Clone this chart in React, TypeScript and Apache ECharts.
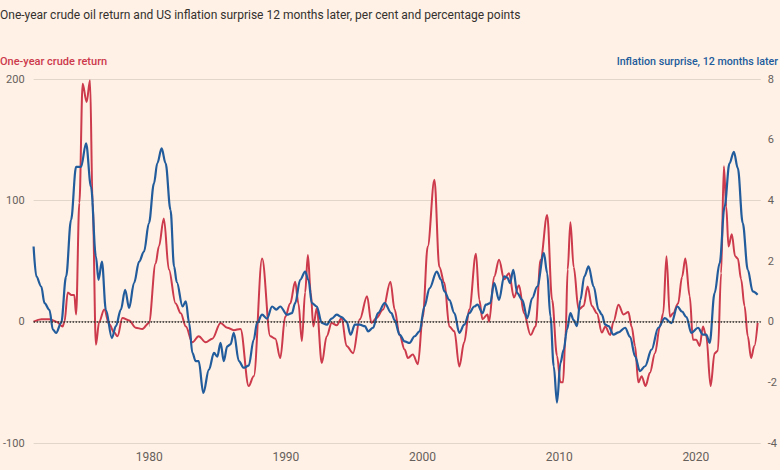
import React, { useEffect, useRef } from "react";
import * as echarts from "echarts";

const TITLE = "One-year crude oil return and US inflation surprise 12 months later, per cent and percentage points";
const LEFT_LABEL = "One-year crude return";
const RIGHT_LABEL = "Inflation surprise, 12 months later";

const YEAR_TICKS = [1980, 1990, 2000, 2010, 2020];

const crudeYears = [
  1971.54, 1972.12, 1972.70, 1973.21, 1973.67, 1973.80, 1974.04, 1974.31, 1974.52, 1974.65,
  1974.89, 1975.13, 1975.42, 1975.67, 1975.86, 1976.10, 1976.34, 1976.71, 1977.07, 1977.44,
  1977.68, 1978.04, 1978.53, 1979.01, 1979.50, 1979.98, 1980.47, 1980.71, 1981.07, 1981.44,
  1981.93, 1982.31, 1982.68, 1983.16, 1983.62, 1984.13, 1984.62, 1985.22, 1985.71, 1986.19,
  1986.68, 1987.28, 1987.65, 1988.26, 1988.86, 1989.23, 1989.59, 1989.95, 1990.32, 1990.68,
  1990.92, 1991.17, 1991.41, 1991.61, 1991.82, 1992.01, 1992.26, 1992.63, 1992.99, 1993.35,
  1993.72, 1994.08, 1994.44, 1994.92, 1995.41, 1995.94, 1996.26, 1996.63, 1997.11, 1997.65,
  1997.96, 1998.32, 1998.69, 1998.93, 1999.29, 1999.66, 2000.02, 2000.38, 2000.87, 2001.23,
  2001.60, 2001.96, 2002.33, 2002.69, 2003.05, 2003.42, 2003.91, 2004.15, 2004.39, 2004.75,
  2004.87, 2005.24, 2005.60, 2005.97, 2006.33, 2006.69, 2007.06, 2007.42, 2007.91, 2008.27,
  2008.64, 2009.12, 2009.48, 2009.84, 2010.09, 2010.28, 2010.46, 2010.62, 2010.82, 2011.06,
  2011.42, 2011.79, 2012.08, 2012.39, 2012.76, 2013.12, 2013.37, 2013.73, 2013.97, 2014.34,
  2014.70, 2015.06, 2015.30, 2015.55, 2015.79, 2016.03, 2016.32, 2016.64, 2017.01, 2017.37,
  2017.61, 2017.85, 2018.10, 2018.34, 2018.70, 2018.99, 2019.23, 2019.55, 2019.79, 2020.03,
  2020.28, 2020.52, 2020.76, 2021.08, 2021.37, 2021.61, 2021.85, 2022.05, 2022.22, 2022.39,
  2022.63, 2022.87, 2023.07, 2023.31, 2023.56, 2023.80, 2024.04, 2024.28, 2024.52,
];
const crudeReturn = [
  0, 2, 2, 0, -4, 0, 24, 22, 22, 6,
  98, 196, 181, 199, 98, -19, 0, 10, -2, -9,
  -12, 3, 1, -5, -6, -1, 48, 62, 85, 43,
  15, 7, -4, -17, -12, -17, -14, -1, -5, -7,
  -6, -53, -45, 52, -12, -14, -30, 4, 15, 33,
  15, -16, 24, 55, 24, -4, 11, -34, -12, -1,
  -3, 3, -20, -26, 2, 21, -1, 3, 10, 33,
  10, -11, -23, -30, -27, -35, 4, 62, 117, 45,
  32, -4, -8, -37, -17, 10, 56, 18, 2, 6,
  0, 37, 51, 35, 40, 20, 30, 7, -11, -4,
  51, 88, 18, -28, -50, -50, -12, 43, 82, 45,
  10, 13, 29, 13, 7, -9, -4, -11, 0, 14,
  6, 8, -4, -20, -50, -45, -53, -42, -26, -4,
  7, 54, 4, 7, 15, 37, 52, 21, -15, -15,
  -20, -4, -12, -53, -26, -24, 40, 128, 95, 62,
  72, 54, 52, 35, 13, -12, -30, -20, -1,
];

const surpriseYears = [
  1971.54, 1971.74, 1972.10, 1972.34, 1972.70, 1972.95, 1973.19, 1973.56, 1973.92, 1974.28,
  1974.65, 1975.01, 1975.38, 1975.74, 1976.10, 1976.29, 1976.54, 1976.83, 1977.27, 1977.56,
  1977.92, 1978.24, 1978.53, 1978.89, 1979.26, 1979.62, 1979.98, 1980.35, 1980.59, 1980.91,
  1981.20, 1981.56, 1981.82, 1982.02, 1982.44, 1982.68, 1982.92, 1983.16, 1983.40, 1983.62,
  1983.96, 1984.37, 1984.74, 1984.98, 1985.22, 1985.46, 1985.71, 1985.95, 1986.19, 1986.56,
  1986.92, 1987.28, 1987.65, 1987.89, 1988.26, 1988.62, 1988.99, 1989.30, 1989.59, 1990.08,
  1990.44, 1990.68, 1991.05, 1991.41, 1991.65, 1991.90, 1992.26, 1992.63, 1992.99, 1993.35,
  1993.72, 1994.08, 1994.44, 1994.74, 1995.05, 1995.41, 1995.78, 1996.02, 1996.38, 1996.74,
  1997.23, 1997.72, 1997.96, 1998.32, 1998.69, 1999.05, 1999.42, 1999.78, 2000.14, 2000.51,
  2001.04, 2001.36, 2001.60, 2001.96, 2002.33, 2002.69, 2003.05, 2003.42, 2003.78, 2004.02,
  2004.39, 2004.63, 2004.95, 2005.24, 2005.60, 2005.97, 2006.21, 2006.40, 2006.64, 2006.93,
  2007.30, 2007.66, 2008.03, 2008.39, 2008.88, 2009.12, 2009.36, 2009.60, 2009.84, 2010.09,
  2010.33, 2010.57, 2010.82, 2011.06, 2011.30, 2011.55, 2011.84, 2012.15, 2012.52, 2012.88,
  2013.12, 2013.37, 2013.61, 2013.97, 2014.34, 2014.82, 2015.19, 2015.55, 2015.91, 2016.28,
  2016.76, 2017.25, 2017.73, 2018.21, 2018.65, 2018.99, 2019.31, 2019.67, 2020.16, 2020.52,
  2020.76, 2021.01, 2021.37, 2021.74, 2022.10, 2022.46, 2022.78, 2023.07, 2023.43, 2023.80,
  2024.16, 2024.52,
];
const inflationSurprise = [
  2.48, 1.49, 1.16, 0.61, 0.39, -0.26, -0.37, -0.04, 1.49, 3.35,
  5.1, 5.1, 5.88, 4.45, 2.15, 1.38, 1.98, 0.39, -0.54, -0.15,
  0.39, 1.05, 0.45, 1.27, 1.98, 2.31, 3.25, 4.56, 5.22, 5.71,
  5.22, 3.68, 1.82, 1.3, 0.5, 0.67, -0.04, -1.03, -1.3, -1.3,
  -2.35, -1.58, -1.03, -1.15, -0.7, -1.3, -0.81, -0.75, -0.37, -1.3,
  -1.52, -1.45, -0.59, -0.04, 0.23, 0.1, 0.5, 0.4, 0.5, 0.23,
  0.28, 0.61, 1.38, 1.65, 1.38, 0.61, 0.5, -0.04, -0.1, 0.1,
  0.23, 0.15, 0, -0.43, -0.1, -0.1, -0.15, -0.32, -0.2, 0.28,
  0.61, 0.28, 0.05, -0.43, -0.65, -0.7, -0.48, -0.32, 0.5, 1.1,
  1.65, 1.38, 1.0, 0.72, 0.28, -0.37, -0.1, 0.28, 0.5, 0.56,
  0.28, 0.56, 0.61, 1.27, 0.72, 1.49, 1.45, 1.27, 1.71, 0.94,
  0.72, 0.12, 0.78, 1.16, 2.26, 1.6, 0.17, -1.47, -2.67, -1.36,
  -0.92, -0.26, 0.28, 0.05, -0.15, 0.72, 1.49, 1.82, 1.16, 0.39,
  0.23, -0.1, -0.15, -0.43, -0.35, -0.2, -0.5, -1.14, -1.63, -1.47,
  -0.92, -0.2, 0.12, -0.05, 0.5, 0.33, 0.15, -0.37, -0.2, -0.43,
  -0.43, -0.7, 0.94, 1.93, 3.79, 5.22, 5.6, 5.06, 3.25, 1.71,
  1.0, 0.89,
];

const RED = "#cc3a4c";
const BLUE = "#225c9c";
const GRID = "#e2d6cb";
const TEXT = "#66605c";
const FONT = "Roboto, 'Noto Sans', sans-serif";

export default function App() {
  const ref = useRef<HTMLDivElement>(null);

  useEffect(() => {
    if (!ref.current) return;
    const chart = echarts.init(ref.current, undefined, { renderer: "svg" });

    const crudeData = crudeYears.map((y, i) => [y, crudeReturn[i]]);
    const surpriseData = surpriseYears.map((y, i) => [y, inflationSurprise[i]]);

    chart.setOption({
      animation: false,
      backgroundColor: "#fff1e5",
      textStyle: { fontFamily: FONT },
      graphic: [
        {
          type: "text",
          left: 0,
          top: 9,
          style: { text: TITLE, fill: "#33302e", font: `12px ${FONT}` },
        },
        {
          type: "text",
          left: 0,
          top: 56,
          style: { text: LEFT_LABEL, fill: RED, font: `500 11px ${FONT}` },
        },
        {
          type: "text",
          right: 2,
          top: 56,
          style: { text: RIGHT_LABEL, fill: BLUE, font: `500 10.7px ${FONT}` },
        },
      ],
      grid: { left: 32, right: 17, top: 79, bottom: 27, containLabel: false },
      xAxis: {
        type: "value",
        min: 1971.54,
        max: 2024.75,
        axisLine: { show: true, lineStyle: { color: "#cfc3b8", width: 1 } },
        axisTick: {
          show: true,
          length: 5,
          customValues: YEAR_TICKS,
          lineStyle: { color: "#bfb3a8" },
        },
        axisLabel: {
          customValues: YEAR_TICKS,
          formatter: (v: number) => String(Math.round(v)),
          color: TEXT,
          fontSize: 12,
          fontFamily: FONT,
          margin: 8,
        },
        splitLine: { show: false },
      },
      yAxis: [
        {
          type: "value",
          min: -100,
          max: 200,
          interval: 100,
          position: "left",
          axisLine: { show: false },
          axisTick: { show: false },
          axisLabel: { color: TEXT, fontSize: 11, fontFamily: FONT, margin: 9 },
          splitLine: {
            show: true,
            lineStyle: { color: [GRID, "rgba(0,0,0,0)", GRID, GRID], width: 1 },
          },
        },
        {
          type: "value",
          min: -4,
          max: 8,
          interval: 2,
          position: "right",
          axisLine: { show: false },
          axisTick: { show: false },
          axisLabel: { color: TEXT, fontSize: 11, fontFamily: FONT, margin: 7 },
          splitLine: { show: false },
        },
      ],
      series: [
        {
          name: LEFT_LABEL,
          type: "line",
          yAxisIndex: 0,
          data: crudeData,
          showSymbol: false,
          smooth: 0.35,
          smoothMonotone: "x",
          lineStyle: { color: RED, width: 2 },
          z: 3,
          markLine: {
            silent: true,
            symbol: "none",
            label: { show: false },
            lineStyle: { color: "#33302e", type: "dotted", width: 1.5 },
            data: [{ yAxis: 0 }],
          },
        },
        {
          name: RIGHT_LABEL,
          type: "line",
          yAxisIndex: 1,
          data: surpriseData,
          showSymbol: false,
          smooth: 0.35,
          smoothMonotone: "x",
          lineStyle: { color: BLUE, width: 2.2 },
          z: 4,
        },
      ],
    });

    return () => chart.dispose();
  }, []);

  return (
    <div
      ref={ref}
      style={{ position: "absolute", left: 0, top: 0, width: 780, height: 470 }}
    />
  );
}
